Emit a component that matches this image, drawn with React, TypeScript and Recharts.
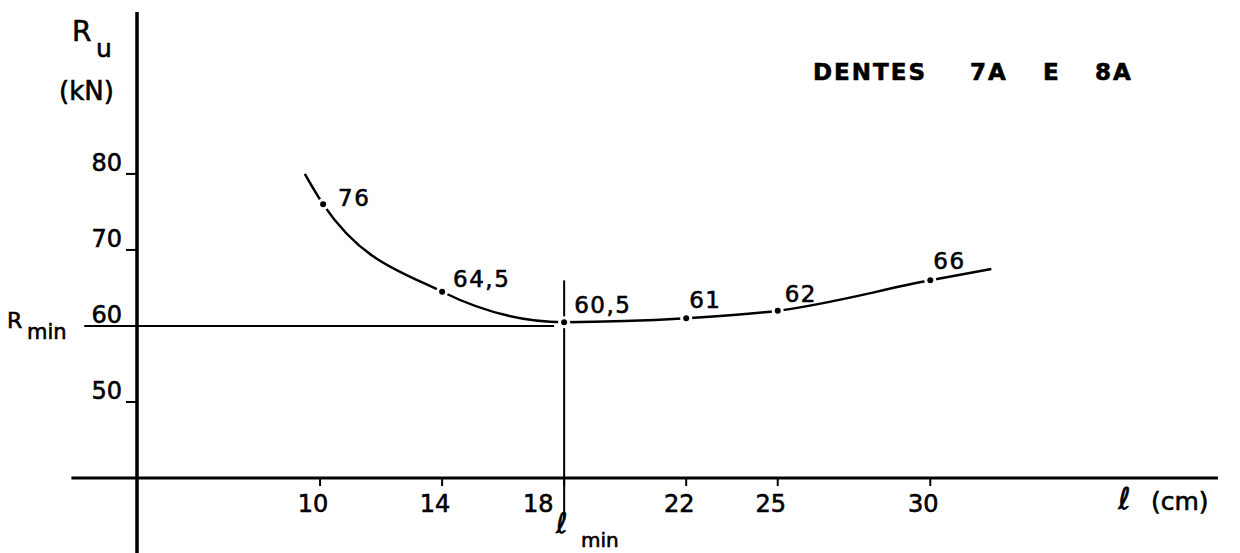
import React from "react";
import { ComposedChart, Line, XAxis, YAxis, ReferenceLine, LabelList } from "recharts";

// ℓ (cm) along the curve: first and last entries are the ends of the drawn curve
const lengths = [9.5, 10.1, 14, 18, 22, 25, 30, 32];
const loads = [80, 76, 64.5, 60.5, 61, 62, 66, 67.5];
const pointLabels = ["", "76", "64,5", "60,5", "61", "62", "66", ""];

const xTicks = [10, 14, 18, 22, 25, 30];
const yTicks = [50, 60, 70, 80];

const rMin = 60;
const lMin = 18;

const data = lengths.map((l, i) => ({ l, r: loads[i], label: pointLabels[i] }));

const INK = "#000";
const FONT = "'DejaVu Sans', sans-serif";
const THICK = { stroke: INK, strokeWidth: 0.6 };

// small nudges for the hand-placed value labels
const labelNudge: Record<string, [number, number]> = {
  "76": [15, 2],
  "64,5": [11, -5],
  "60,5": [10, -9],
  "61": [3, -10],
  "62": [7, -9],
  "66": [3, -11],
};

function PointDot(props: any) {
  const { cx, cy, payload, index } = props;
  if (!payload.label) return <g key={`d${index}`} />;
  return (
    <g key={`d${index}`}>
      <circle cx={cx} cy={cy} r={6} fill="#fff" />
      <circle cx={cx} cy={cy} r={3} fill={INK} />
    </g>
  );
}

function PointLabel(props: any) {
  const { x, y, value } = props;
  if (!value) return null;
  const [dx, dy] = labelNudge[value] ?? [8, -8];
  return (
    <text x={x + dx} y={y + dy} fontSize={23} letterSpacing={1.5} fill={INK} fontFamily={FONT} {...THICK}>
      {value}
    </text>
  );
}

function XTick(props: any) {
  const { x, y, payload } = props;
  const dx = payload.value === lMin ? -26 : -7;
  return (
    <text x={x + dx} y={y} dy={26} textAnchor="middle" fontSize={24} fill={INK} fontFamily={FONT} {...THICK}>
      {payload.value}
    </text>
  );
}

function YTick(props: any) {
  const { x, y, payload } = props;
  return (
    <text x={x - 4} y={y} dy={-3} textAnchor="end" fontSize={24} fill={INK} fontFamily={FONT} {...THICK}>
      {payload.value}
    </text>
  );
}

export default function App() {
  return (
    <div style={{ position: "absolute", left: 0, top: 0, width: 1240, height: 553, background: "#fff", fontFamily: FONT }}>
      <ComposedChart width={1240} height={553} data={data} margin={{ top: 12, right: 22, bottom: 0, left: 0 }}>
        <XAxis
          dataKey="l"
          type="number"
          domain={[4, 39.43]}
          allowDataOverflow
          ticks={xTicks}
          height={75}
          tickSize={8}
          tickMargin={0}
          axisLine={{ stroke: INK, strokeWidth: 3 }}
          tickLine={{ stroke: INK, strokeWidth: 2 }}
          tick={<XTick />}
        />
        <YAxis
          type="number"
          domain={[40, 101.3]}
          allowDataOverflow
          ticks={yTicks}
          width={137}
          tickSize={11}
          tickMargin={0}
          axisLine={{ stroke: INK, strokeWidth: 3.5 }}
          tickLine={{ stroke: INK, strokeWidth: 2 }}
          tick={<YTick />}
        />
        {/* axis extensions past the origin */}
        <ReferenceLine segment={[{ x: 1.85, y: 40 }, { x: 4, y: 40 }]} stroke={INK} strokeWidth={3} ifOverflow="visible" />
        <ReferenceLine segment={[{ x: 4, y: 30 }, { x: 4, y: 40 }]} stroke={INK} strokeWidth={3.5} ifOverflow="visible" />
        {/* R_min and ℓ_min guides */}
        <ReferenceLine segment={[{ x: 2.27, y: rMin }, { x: 17.67, y: rMin }]} stroke={INK} strokeWidth={2} ifOverflow="visible" />
        <ReferenceLine segment={[{ x: lMin, y: 34.5 }, { x: lMin, y: 66 }]} stroke={INK} strokeWidth={2} ifOverflow="visible" />
        <Line
          dataKey="r"
          type="monotone"
          stroke={INK}
          strokeWidth={2.5}
          dot={PointDot}
          activeDot={false}
          isAnimationActive={false}
        >
          <LabelList dataKey="label" content={PointLabel} />
        </Line>
      </ComposedChart>
      <svg width={1240} height={553} style={{ position: "absolute", left: 0, top: 0, pointerEvents: "none" }} fontFamily={FONT} fill={INK} {...THICK}>
        <text x={72} y={41} fontSize={28}>R</text>
        <text x={96} y={57} fontSize={25}>u</text>
        <text x={59} y={100} fontSize={26}>(kN)</text>
        <text x={7} y={328} fontSize={22}>R</text>
        <text x={27} y={339} fontSize={21}>min</text>
        <text x={556} y={533} fontSize={28}>ℓ</text>
        <text x={581} y={547} fontSize={20}>min</text>
        <text x={1118} y={509} fontSize={30}>ℓ</text>
        <text x={1151} y={510} fontSize={25}>(cm)</text>
        <text y={80} fontSize={23} fontWeight="bold" letterSpacing={2}>
          <tspan x={813}>DENTES</tspan>
          <tspan x={970}>7A</tspan>
          <tspan x={1043}>E</tspan>
          <tspan x={1095}>8A</tspan>
        </text>
      </svg>
    </div>
  );
}
